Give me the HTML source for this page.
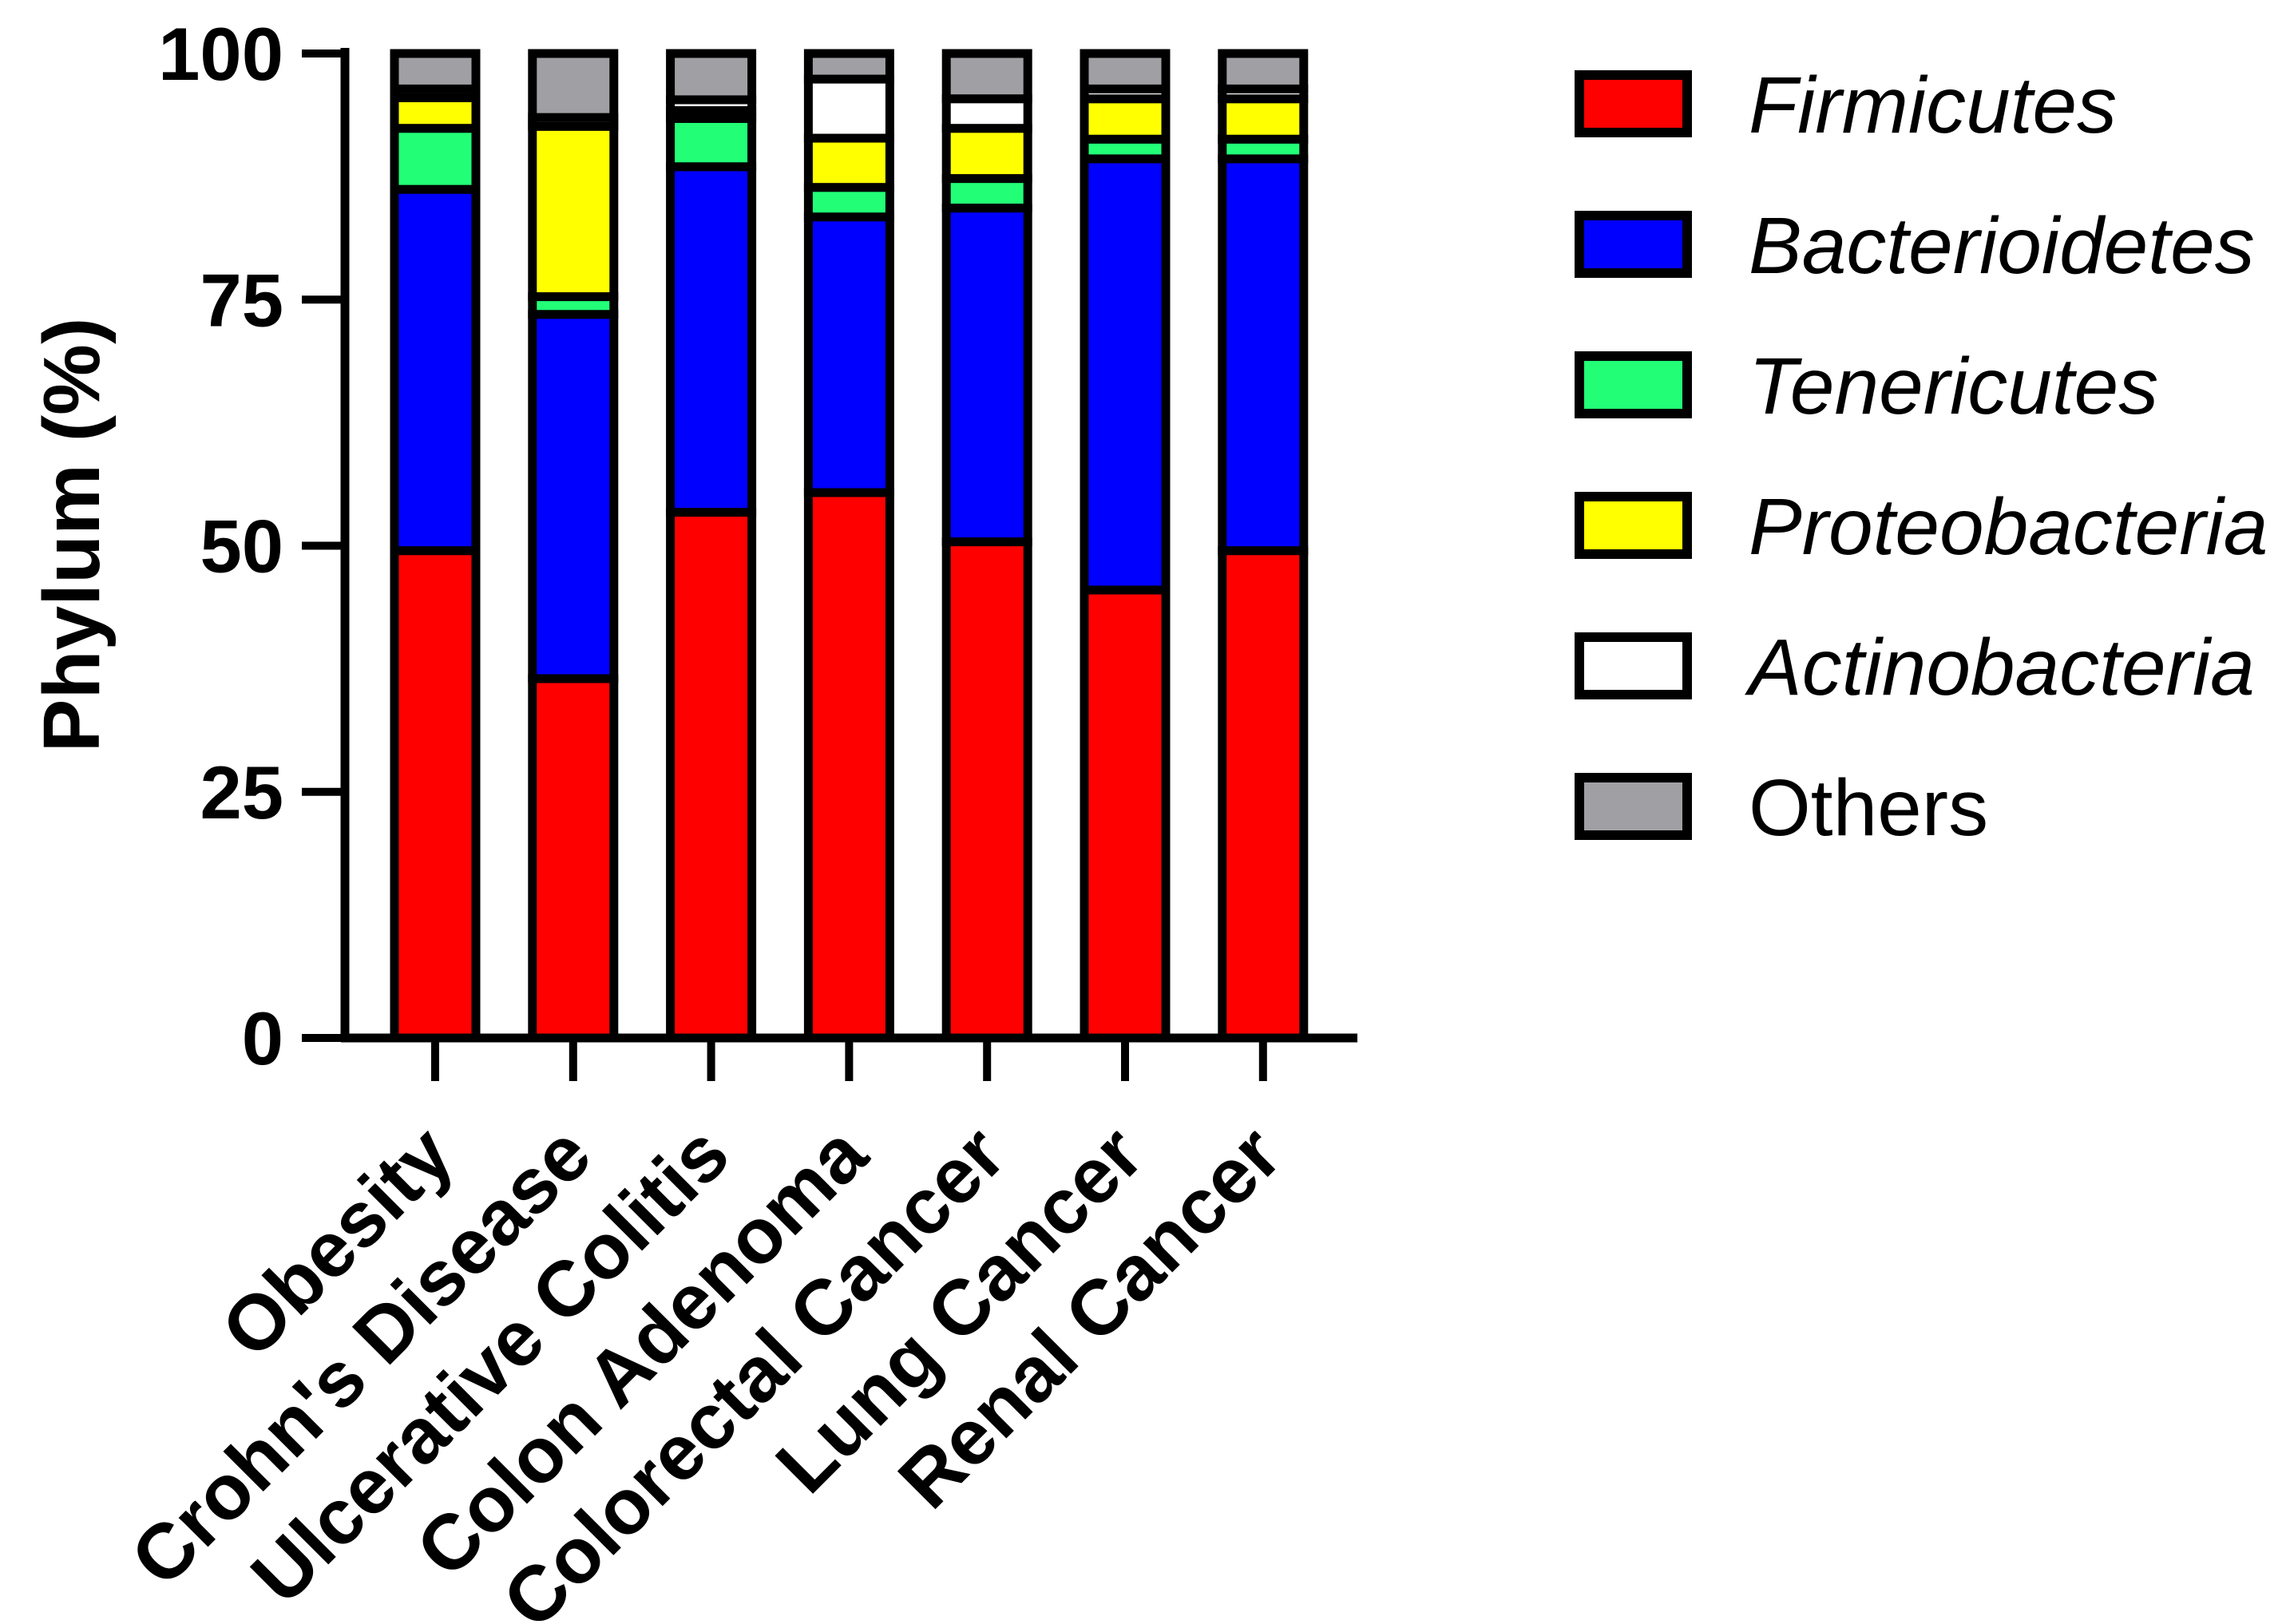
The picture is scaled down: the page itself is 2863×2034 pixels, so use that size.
<!DOCTYPE html>
<html><head><meta charset="utf-8"><style>
html,body{margin:0;padding:0;background:#fff;}
svg{display:block;font-family:"Liberation Sans",Arial,sans-serif;}
</style></head><body>
<svg id="chart" width="2863" height="2034" viewBox="0 0 2863 2034" xmlns="http://www.w3.org/2000/svg">
<g id="bars"></g>
<g id="axes"></g>
<g id="legend"></g>
</svg>
<script>
const categories = ["Obesity","Crohn's Disease","Ulcerative Colitis","Colon Adenoma","Colorectal Cancer","Lung Cancer","Renal Cancer"];
const seriesNames = ["Firmicutes","Bacterioidetes","Tenericutes","Proteobacteria","Actinobacteria","Others"];
const seriesColors = ["#ff0000","#0000ff","#22ff77","#ffff00","#ffffff","#a0a0a4"];
const firmicutes     = [49.5, 36.5, 53.4, 55.4, 50.4, 45.5, 49.5];
const bacterioidetes = [36.7, 37.0, 35.1, 28.0, 33.9, 43.8, 39.8];
const tenericutes    = [6.2, 1.8, 4.9, 3.0, 3.0, 2.0, 2.0];
const proteobacteria = [3.1, 17.3, 0.8, 5.0, 5.1, 4.1, 4.1];
const actinobacteria = [0.9, 0.9, 1.1, 6.0, 3.0, 1.0, 1.0];
const others         = [3.6, 6.5, 4.7, 2.6, 4.6, 3.6, 3.6];
const yTicks = [0, 25, 50, 75, 100];

const NS = "http://www.w3.org/2000/svg";
const series = [firmicutes, bacterioidetes, tenericutes, proteobacteria, actinobacteria, others];
const y0 = 1300, y100 = 67;
function yScale(v){ return y0 - (y0 - y100) * v / 100; }
const xStart = 545, xStep = 172.8;
function xScale(i){ return xStart + i * xStep; }
function mk(tag, attrs, parent){ const e = document.createElementNS(NS, tag); for (const k in attrs) e.setAttribute(k, attrs[k]); parent.appendChild(e); return e; }

const bars = document.getElementById('bars');
categories.forEach((c, i) => {
  let cum = 0;
  const g = mk('g', {}, bars);
  
  
  series.forEach((s, k) => {
    const lo = cum, hi = cum + s[i]; cum = hi;
    const r = mk('rect', {x: xScale(i) - 51, y: yScale(hi), width: 102, height: Math.max(0, yScale(lo) - yScale(hi)), fill: seriesColors[k], stroke: '#000', 'stroke-width': 11}, g);
    
    
  });
});

const axes = document.getElementById('axes');
const ya = mk('line', {x1: 432, y1: 60, x2: 432, y2: 1305, stroke: '#000', 'stroke-width': 11}, axes);


const xa = mk('line', {x1: 427, y1: 1300, x2: 1700, y2: 1300, stroke: '#000', 'stroke-width': 11}, axes);


yTicks.forEach(t => {
  const y = yScale(t);
  const tk = mk('line', {x1: 378, y1: y, x2: 432, y2: y, stroke: '#000', 'stroke-width': 10}, axes);
  
  
  const tx = mk('text', {x: 355, y: y + 33, 'text-anchor': 'end', 'font-size': 94, 'font-weight': 'bold'}, axes);
  tx.textContent = t;
  
  
});
categories.forEach((c, i) => {
  const x = xScale(i);
  const tk = mk('line', {x1: x, y1: 1300, x2: x, y2: 1354, stroke: '#000', 'stroke-width': 10}, axes);
  
  
  const ex = x + 28, ey = 1452;
  const tx = mk('text', {x: ex, y: ey, 'text-anchor': 'end', 'font-size': 98, 'font-weight': 'bold', transform: 'rotate(-45 ' + ex + ' ' + ey + ')'}, axes);
  tx.textContent = c;
  
  
});
const yt = mk('text', {x: 0, y: 0, 'text-anchor': 'middle', 'font-size': 100, 'font-weight': 'bold', transform: 'translate(124 670) rotate(-90)'}, axes);
yt.textContent = 'Phylum (%)';



const legend = document.getElementById('legend');
seriesNames.forEach((n, k) => {
  const y = 88 + k * 176;
  const g = mk('g', {}, legend);
  
  
  const r = mk('rect', {x: 1978, y: y + 6, width: 135, height: 72, fill: seriesColors[k], stroke: '#000', 'stroke-width': 12}, g);
  
  
  const t = mk('text', {x: 2190, y: y + 78, 'font-size': 100, 'font-style': k === 5 ? 'normal' : 'italic'}, g);
  t.textContent = n;
  
  
});
</script>
</body></html>
